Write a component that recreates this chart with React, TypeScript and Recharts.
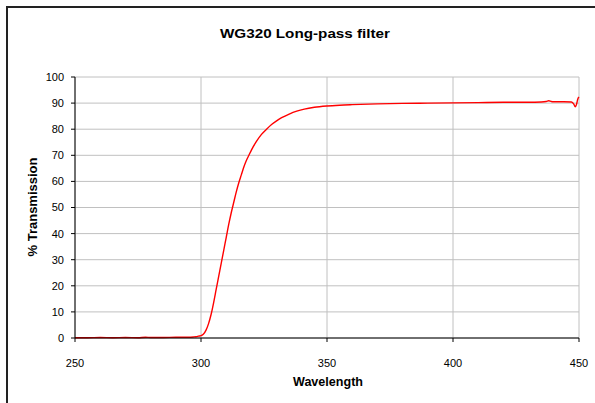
import { LineChart, Line, XAxis, YAxis, CartesianGrid } from 'recharts';

// wavelength (nm) and % transmission
const wavelengths = [
  250, 255, 260, 265, 270, 275, 278, 280, 285, 290, 295, 297, 298, 299,
  300, 301, 302, 303, 304, 305, 306, 307, 308, 309, 310, 311, 312, 313, 314,
  315, 316, 317, 318, 319, 320, 322, 324, 326, 328, 330, 332, 335, 338, 341,
  345, 350, 355, 360, 370, 380, 390, 400, 410, 420, 430, 435, 437, 438, 439,
  440, 444, 447, 448, 448.5, 449, 449.5, 450,
];
const transmission = [
  0.1, 0.1, 0.2, 0.1, 0.2, 0.1, 0.3, 0.2, 0.2, 0.3, 0.3, 0.4, 0.5, 0.7,
  0.9, 1.5, 3.0, 5.5, 9.0, 13.5, 18.5, 23.5, 28.5, 33.5, 38.5, 43.5, 48, 52, 56,
  59.5, 62.5, 65.5, 68, 70, 72, 75.3, 78, 80, 81.8, 83.2, 84.4, 85.8, 86.9, 87.7,
  88.4, 88.9, 89.2, 89.4, 89.7, 89.9, 90.0, 90.1, 90.2, 90.3, 90.3, 90.4, 90.6, 90.9, 90.6,
  90.5, 90.5, 90.4, 89.5, 88.6, 89.5, 91.5, 92.3,
];
const xTicks = [250, 300, 350, 400, 450];
const yTicks = [0, 10, 20, 30, 40, 50, 60, 70, 80, 90, 100];

const data = wavelengths.map((wl, i) => ({ wl, t: transmission[i] }));

const font = 'Liberation Sans, Arial, sans-serif';

export default function App() {
  return (
    <div style={{ position: 'absolute', left: 0, top: 0, width: 595, height: 403, background: '#fff' }}>
      {/* chart area frame (cropped, only left + top visible) */}
      <div
        style={{
          position: 'absolute', left: 6, top: 6, width: 589, height: 397,
          borderLeft: '2px solid #222', borderTop: '2px solid #222', boxSizing: 'border-box',
        }}
      />
      <LineChart
        width={595}
        height={403}
        data={data}
        margin={{ top: 77, right: 16, bottom: 35, left: 0 }}
      >
        <CartesianGrid stroke="#c0c0c0" strokeWidth={1} />
        <XAxis
          dataKey="wl"
          type="number"
          domain={[250, 450]}
          ticks={xTicks}
          height={30}
          axisLine={{ stroke: '#000' }}
          tickLine={{ stroke: '#000' }}
          tickSize={4}
          tickMargin={17}
          tick={{ fill: '#000', fontSize: 11, fontFamily: font }}
        />
        <YAxis
          type="number"
          domain={[0, 100]}
          ticks={yTicks}
          width={75}
          interval={0}
          axisLine={{ stroke: '#000' }}
          tickLine={{ stroke: '#000' }}
          tickSize={4}
          tickMargin={7}
          tick={{ fill: '#000', fontSize: 11, fontFamily: font }}
        />
        <Line
          dataKey="t"
          type="monotone"
          stroke="#ff0000"
          strokeWidth={1.4}
          dot={false}
          isAnimationActive={false}
        />
      </LineChart>
      <svg
        width={595}
        height={403}
        style={{ position: 'absolute', left: 0, top: 0, pointerEvents: 'none' }}
      >
        <text
          x={305} y={37.5} textAnchor="middle" fontFamily={font} fontWeight="bold" fontSize={13}
          textLength={170} lengthAdjust="spacingAndGlyphs"
        >
          WG320 Long-pass filter
        </text>
        <text
          x={37} y={207} textAnchor="middle" fontFamily={font} fontWeight="bold" fontSize={13}
          transform="rotate(-90 37 207)"
        >
          % Transmission
        </text>
        <text
          x={328} y={386} textAnchor="middle" fontFamily={font} fontWeight="bold" fontSize={12}
          textLength={70} lengthAdjust="spacingAndGlyphs"
        >
          Wavelength
        </text>
      </svg>
    </div>
  );
}
